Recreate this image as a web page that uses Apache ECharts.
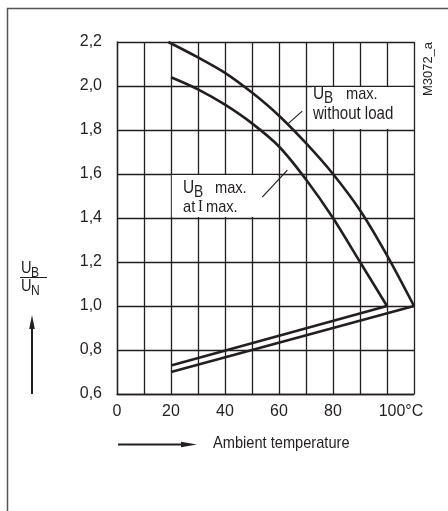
<!DOCTYPE html>
<html><head><meta charset="utf-8">
<script src="https://cdn.jsdelivr.net/npm/echarts@6/dist/echarts.min.js"></script>
<style>html,body{margin:0;padding:0;background:#fff}#c{width:448px;height:511px}</style>
</head><body><div id="c"></div>
<script>
// Ambient temperature (°C) and U_B/U_N values
const noLoadTemp = [19, 30, 40, 50, 60, 70, 80, 90, 100, 110];
const noLoadRatio = [2.2, 2.13, 2.06, 1.97, 1.865, 1.74, 1.6, 1.435, 1.23, 1.0];
const atImaxTemp = [20, 30, 40, 50, 60, 70, 80, 90, 100];
const atImaxRatio = [2.04, 1.985, 1.915, 1.83, 1.725, 1.575, 1.4, 1.2, 1.0];
const minNoLoadTemp = [20, 110];
const minNoLoadRatio = [0.70, 1.0];
const minAtImaxTemp = [20, 100];
const minAtImaxRatio = [0.73, 1.0];
const xTickLabels = ['0', '20', '40', '60', '80', '100'];
const yTickLabels = ['0,6', '0,8', '1,0', '1,2', '1,4', '1,6', '1,8', '2,0', '2,2'];

const INK = '#231f20';
const FONT = "'Liberation Sans',Arial,sans-serif";
const pair = (xs, ys) => xs.map((x, i) => [x, ys[i]]);

const chart = echarts.init(document.getElementById('c'), null, {renderer: 'canvas'});
const lineSeries = (data, smooth) => ({
  type: 'line', data, symbol: 'none', smooth: smooth, animation: false,
  lineStyle: {color: INK, width: 2.6}, z: 5
});

chart.setOption({
  animation: false,
  backgroundColor: '#fff',
  grid: {left: 117, top: 42, width: 297, height: 352, containLabel: false},
  xAxis: {
    type: 'value', min: 0, max: 110, interval: 10,
    axisLine: {show: true, lineStyle: {color: INK, width: 1.3}},
    axisTick: {show: false},
    splitLine: {show: true, lineStyle: {color: INK, width: 1.3}},
    axisLabel: {
      margin: 10, color: INK, fontFamily: FONT, fontSize: 16,
      formatter: (v) => {
        const i = xTickLabels.indexOf(String(v));
        if (i < 0) return '';
        if (v === 100) return '{pad|}' + xTickLabels[i] + '°C';
        return xTickLabels[i];
      },
      rich: {pad: {width: 28}}
    }
  },
  yAxis: {
    type: 'value', min: 0.6, max: 2.2, interval: 0.2,
    axisLine: {show: true, lineStyle: {color: INK, width: 1.3}},
    axisTick: {show: false},
    splitLine: {show: true, lineStyle: {color: INK, width: 1.3}},
    axisLabel: {
      margin: 15, color: INK, fontFamily: FONT, fontSize: 16, padding: [5, 0, 0, 0],
      formatter: (v) => yTickLabels[Math.round((v - 0.6) / 0.2)] || ''
    }
  },
  series: [
    lineSeries(pair(noLoadTemp, noLoadRatio), 0.3),
    lineSeries(pair(atImaxTemp, atImaxRatio), 0.3),
    lineSeries(pair(minNoLoadTemp, minNoLoadRatio), false),
    lineSeries(pair(minAtImaxTemp, minAtImaxRatio), false)
  ]
});

const p = (x, y) => chart.convertToPixel({gridIndex: 0}, [x, y]);
const SX = 0.86;
const txt = (x, y, s, size, extra) => ({
  type: 'text', x, y, z: 20, scaleX: SX,
  style: Object.assign({text: s, fill: INK, font: size + 'px ' + FONT, verticalAlign: 'middle', align: 'left'}, extra || {})
});

const b1a = p(72.3, 1.995), b1b = p(109.6, 1.805);
const b2a = p(20.3, 1.595), b2b = p(59.3, 1.405);
const l1a = p(63.5, 1.83), l1b = p(68.6, 1.886);
const l2a = p(53.8, 1.495), l2b = p(63.1, 1.618);

chart.setOption({
  graphic: [
    // frame
    {type: 'polyline', shape: {points: [[7.5, 511], [7.5, 8.5], [448, 8.5]]}, style: {stroke: '#555', lineWidth: 1.5, fill: null}, z: 1},
    // annotation boxes
    {type: 'rect', shape: {x: b1a[0], y: b1a[1], width: b1b[0] - b1a[0], height: b1b[1] - b1a[1]}, style: {fill: '#fff'}, z: 10},
    {type: 'rect', shape: {x: b2a[0], y: b2a[1], width: b2b[0] - b2a[0], height: b2b[1] - b2a[1]}, style: {fill: '#fff'}, z: 10},
    // leader lines
    {type: 'line', shape: {x1: l1a[0], y1: l1a[1], x2: l1b[0], y2: l1b[1]}, style: {stroke: INK, lineWidth: 1.2}, z: 20},
    {type: 'line', shape: {x1: l2a[0], y1: l2a[1], x2: l2b[0], y2: l2b[1]}, style: {stroke: INK, lineWidth: 1.2}, z: 20},
    // annotation 1
    txt(313, 94, 'U', 18),
    txt(324, 99, 'B', 16),
    txt(346, 94, 'max.', 17),
    txt(313, 114, 'without load', 17.5),
    // annotation 2
    txt(183, 188, 'U', 18),
    txt(194, 193, 'B', 16),
    txt(215, 188, 'max.', 17),
    txt(183, 207, 'at', 17),
    txt(198, 207, 'I', 17, {font: "17px 'Liberation Serif','DejaVu Serif',serif"}),
    txt(206, 207, 'max.', 17),
    // code
    {type: 'text', x: 428, y: 69, rotation: Math.PI / 2, z: 20,
     style: {text: 'M3072_a', fill: INK, font: '13px ' + FONT, align: 'center', verticalAlign: 'middle'}},
    // y label fraction
    txt(21, 268, 'U', 17),
    txt(31, 273, 'B', 14),
    {type: 'line', shape: {x1: 20, y1: 277.5, x2: 47, y2: 277.5}, style: {stroke: INK, lineWidth: 1}, z: 20},
    txt(21, 286, 'U', 17),
    txt(31, 291, 'N', 14),
    // y arrow
    {type: 'line', shape: {x1: 32, y1: 394, x2: 32, y2: 325}, style: {stroke: INK, lineWidth: 2}, z: 20},
    {type: 'polygon', shape: {points: [[32, 315], [34.8, 329], [29.2, 329]]}, style: {fill: INK}, z: 20},
    // x arrow
    {type: 'line', shape: {x1: 118, y1: 444.5, x2: 185, y2: 444.5}, style: {stroke: INK, lineWidth: 2}, z: 20},
    {type: 'polygon', shape: {points: [[197, 444.5], [181, 441.8], [181, 447.2]]}, style: {fill: INK}, z: 20},
    txt(213, 443, 'Ambient temperature', 17)
  ]
});
</script></body></html>
